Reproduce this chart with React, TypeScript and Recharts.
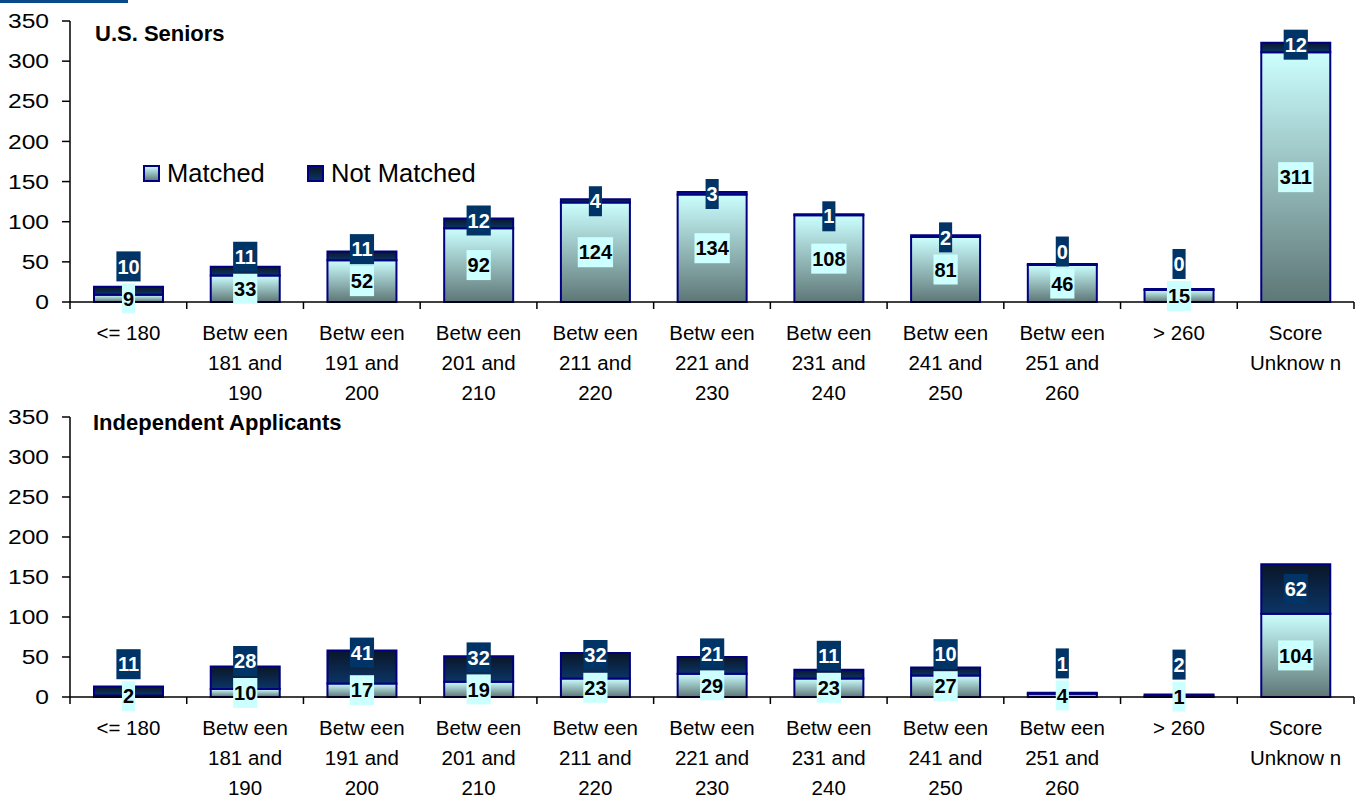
import React from 'react';
import { BarChart, Bar, XAxis, YAxis, Legend, LabelList } from 'recharts';

const categories = [
  '<= 180',
  'Betw een\n181 and\n190',
  'Betw een\n191 and\n200',
  'Betw een\n201 and\n210',
  'Betw een\n211 and\n220',
  'Betw een\n221 and\n230',
  'Betw een\n231 and\n240',
  'Betw een\n241 and\n250',
  'Betw een\n251 and\n260',
  '> 260',
  'Score\nUnknow n',
];
const seriesNames = ['Matched', 'Not Matched'];
const chartTitles = ['U.S. Seniors', 'Independent Applicants'];
const seniorsMatched = [9, 33, 52, 92, 124, 134, 108, 81, 46, 15, 311];
const seniorsNotMatched = [10, 11, 11, 12, 4, 3, 1, 2, 0, 0, 12];
const indepMatched = [2, 10, 17, 19, 23, 29, 23, 27, 4, 1, 104];
const indepNotMatched = [11, 28, 41, 32, 32, 21, 11, 10, 1, 2, 62];
const yTicks = [0, 50, 100, 150, 200, 250, 300, 350];

const FONT = '"Liberation Sans", Arial, sans-serif';
const W = 1359;
const PLOT_LEFT = 70;
const PLOT_RIGHT = 1354;
const BASE = 302;
const BAND = (PLOT_RIGHT - PLOT_LEFT) / categories.length;

const buildRows = (m: number[], nm: number[]) =>
  categories.map((c, i) => ({ cat: c, m: m[i], nm: nm[i] }));

const seniorsRows = buildRows(seniorsMatched, seniorsNotMatched);
const indepRows = buildRows(indepMatched, indepNotMatched);

function XTick(props: any) {
  const { x, payload, index } = props;
  const lines = String(payload.value).split('\n');
  const left = x - BAND / 2;
  return (
    <g>
      <line x1={left} x2={left} y1={BASE} y2={BASE + 7} stroke="#000" strokeWidth={1.5} />
      {index === categories.length - 1 && (
        <line x1={x + BAND / 2} x2={x + BAND / 2} y1={BASE} y2={BASE + 7} stroke="#000" strokeWidth={1.5} />
      )}
      <text textAnchor="middle" fontFamily={FONT} fontSize={20.5} fill="#000">
        {lines.map((l, i) => (
          <tspan key={i} x={x} y={BASE + 31 + i * 30} dy="0.35em">
            {l}
          </tspan>
        ))}
      </text>
    </g>
  );
}

function YTick(props: any) {
  const { x, y, payload } = props;
  return (
    <text
      transform={`translate(${x},${y}) scale(1.2,1)`}
      textAnchor="end"
      dy="0.35em"
      fontFamily={FONT}
      fontSize={20.5}
      fill="#000"
    >
      {payload.value}
    </text>
  );
}

const boxW = (s: string) => s.length * 11.1 + 2;

const makeLabel = (matched: number[], notMatched: number[]) => (props: any) => {
  const { x, y, width, height, index } = props;
  if (x == null || y == null) return null;
  const top = Math.min(y, y + (height || 0));
  const nmv = notMatched[index];
  const h = nmv === 0 ? 0 : Math.abs(height || 0);
  const segBottom = Math.max(y, y + (height || 0));
  const cx = x + width / 2;
  const nTop = nmv === 0 ? segBottom : top;
  const mCenter = (segBottom + BASE) / 2;
  const nmCenter = h >= 40 ? nTop + h / 2 : Math.min(nTop + 2, mCenter - 32);
  const mv = String(matched[index]);
  const nv = String(nmv);
  return (
    <g>
      <rect x={cx - boxW(mv) / 2} y={mCenter - 15} width={boxW(mv)} height={30} fill="#CCFFFF" />
      <text x={cx} y={mCenter} dy="0.36em" textAnchor="middle" fontWeight="bold" fontSize={20} fontFamily={FONT} fill="#000">
        {mv}
      </text>
      <rect x={cx - boxW(nv) / 2} y={nmCenter - 15} width={boxW(nv)} height={30} fill="#003366" />
      <text x={cx} y={nmCenter} dy="0.36em" textAnchor="middle" fontWeight="bold" fontSize={20} fontFamily={FONT} fill="#fff">
        {nv}
      </text>
    </g>
  );
};

function Grads({ id }: { id: string }) {
  return (
    <defs>
      <linearGradient id={`gm${id}`} x1="0" y1="0" x2="0" y2="1">
        <stop offset="0%" stopColor="#CCFFFF" />
        <stop offset="100%" stopColor="#5E7676" />
      </linearGradient>
      <linearGradient id={`gn${id}`} x1="0" y1="0" x2="0" y2="1">
        <stop offset="0%" stopColor="#0A1628" />
        <stop offset="100%" stopColor="#0B3566" />
      </linearGradient>
    </defs>
  );
}

const LegendContent = () => (
  <div style={{ position: 'relative', width: 360, height: 30, fontFamily: FONT, fontSize: 25.5, color: '#000' }}>
    <svg style={{ position: 'absolute', left: 0, top: 7 }} width={17} height={17}>
      <defs>
        <linearGradient id="lgm" x1="0" y1="0" x2="0" y2="1">
          <stop offset="0%" stopColor="#CCFFFF" />
          <stop offset="100%" stopColor="#5E7676" />
        </linearGradient>
        <linearGradient id="lgn" x1="0" y1="0" x2="0" y2="1">
          <stop offset="0%" stopColor="#0A1628" />
          <stop offset="100%" stopColor="#0B3566" />
        </linearGradient>
      </defs>
      <rect x={1} y={1} width={15} height={15} fill="url(#lgm)" stroke="#000080" strokeWidth={2} />
    </svg>
    <span style={{ position: 'absolute', left: 24, top: 0, lineHeight: '30px', whiteSpace: 'nowrap' }}>{seriesNames[0]}</span>
    <svg style={{ position: 'absolute', left: 164, top: 7 }} width={17} height={17}>
      <rect x={1} y={1} width={15} height={15} fill="url(#lgn)" stroke="#000080" strokeWidth={2} />
    </svg>
    <span style={{ position: 'absolute', left: 188, top: 0, lineHeight: '30px', whiteSpace: 'nowrap' }}>{seriesNames[1]}</span>
  </div>
);

function Panel({ rows, matched, notMatched, id, height, top, xHeight, marginTop, showLegend }: any) {
  return (
    <div style={{ position: 'absolute', left: 0, top }}>
      <BarChart
        width={W}
        height={height}
        data={rows}
        margin={{ top: marginTop, right: W - PLOT_RIGHT, left: 8, bottom: 0 }}
        barSize={69}
      >
        <Grads id={id} />
        <XAxis
          dataKey="cat"
          height={xHeight}
          interval={0}
          tickLine={false}
          axisLine={{ stroke: '#000', strokeWidth: 1.5 }}
          tick={<XTick />}
        />
        <YAxis
          width={62}
          domain={[0, 350]}
          ticks={yTicks}
          interval={0}
          tickSize={8}
          tickMargin={13}
          axisLine={{ stroke: '#000', strokeWidth: 1.5 }}
          tickLine={{ stroke: '#000', strokeWidth: 1.5 }}
          tick={<YTick />}
        />
        {showLegend && (
          <Legend
            layout="horizontal"
            verticalAlign="middle"
            align="center"
            content={LegendContent}
            wrapperStyle={{ position: 'absolute', left: 143, top: 158, width: 'auto' }}
          />
        )}
        <Bar dataKey="m" name={seriesNames[0]} stackId="s" fill={`url(#gm${id})`} stroke="#000080" strokeWidth={2} isAnimationActive={false} />
        <Bar dataKey="nm" name={seriesNames[1]} stackId="s" minPointSize={1} fill={`url(#gn${id})`} stroke="#000080" strokeWidth={2} isAnimationActive={false}>
          <LabelList dataKey="nm" content={makeLabel(matched, notMatched)} />
        </Bar>
      </BarChart>
    </div>
  );
}

export default function App() {
  return (
    <div style={{ position: 'absolute', left: 0, top: 0, width: W, height: 798, background: '#fff', overflow: 'hidden' }}>
      <Panel rows={seniorsRows} matched={seniorsMatched} notMatched={seniorsNotMatched} id="a" height={412} top={0} xHeight={110} marginTop={21} showLegend />
      <Panel rows={indepRows} matched={indepMatched} notMatched={indepNotMatched} id="b" height={403} top={395} xHeight={101} marginTop={22} showLegend={false} />
      <div style={{ position: 'absolute', left: 0, top: 0, width: 128, height: 3, background: '#0B4A8A' }} />
      <div style={{ position: 'absolute', left: 95, top: 23.4, fontFamily: FONT, fontWeight: 'bold', fontSize: 22, lineHeight: '22px', whiteSpace: 'nowrap', color: '#000' }}>
        {chartTitles[0]}
      </div>
      <div style={{ position: 'absolute', left: 93, top: 412.4, fontFamily: FONT, fontWeight: 'bold', fontSize: 22, lineHeight: '22px', whiteSpace: 'nowrap', color: '#000' }}>
        {chartTitles[1]}
      </div>
    </div>
  );
}
